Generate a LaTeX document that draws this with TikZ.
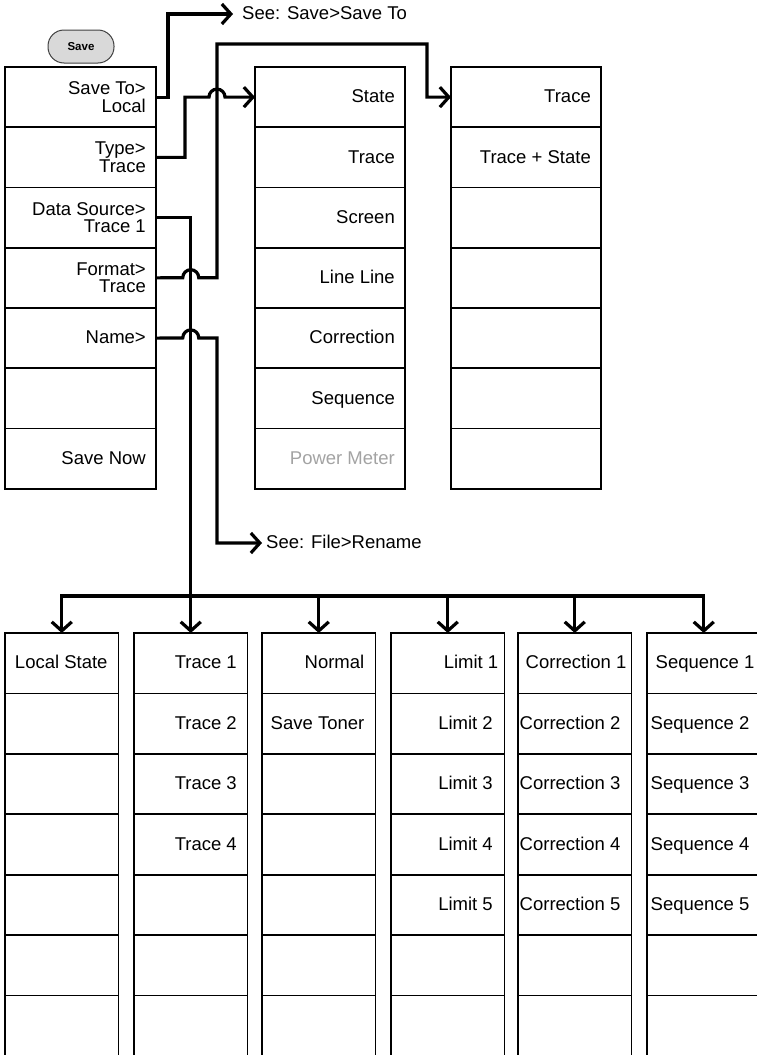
\documentclass[tikz,border=0pt]{standalone}
\usepackage{fontspec}
\setmainfont{Liberation Sans}
\usetikzlibrary{arrows.meta}
\definecolor{btnfill}{HTML}{D9D9D9}
\definecolor{btnline}{HTML}{404040}
\definecolor{dimtext}{HTML}{A3A3A3}
\begin{document}
\begin{tikzpicture}[x=1pt,y=-1pt,
  cell/.style={draw, line width=1.7pt, minimum width=151pt, minimum height=60.25pt, inner sep=0pt, outer sep=0pt},
  mcell/.style={cell, minimum width=150pt},
  bcell/.style={cell, minimum width=113.5pt, minimum height=60.42pt},
  txt/.style={inner sep=0pt, font=\fontsize{18.5}{17.6}\selectfont, text height=13.3pt, text depth=0pt},
  txttwo/.style={inner sep=0pt, font=\fontsize{18.5}{17.6}\selectfont, align=right, anchor=east},
  conn/.style={line width=3.2pt},
  arr/.style={conn, -{Straight Barb[length=9pt,width=20pt]}},
  btn/.style={draw=btnline, fill=btnfill, line width=1pt, rounded corners=16pt, minimum width=66pt, minimum height=33pt, inner sep=0pt, font=\bfseries\fontsize{11.5}{12}\selectfont}
]
\useasboundingbox (0,0) rectangle (757,1055);
\clip (0,0) rectangle (757,1055);

% Save button
\node[btn] (save) at (81,46.5) {Save};

% left column
\foreach \i in {1,...,7} \node[cell] (L\i) at (80.5,{67+60.25*(\i-0.5)}) {};
\node[txttwo] (tL1) at ([xshift=-10pt]L1.east) {Save To>\\Local};
\node[txttwo] (tL2) at ([xshift=-10pt]L2.east) {Type>\\Trace};
\node[txttwo] (tL3) at ([xshift=-10pt]L3.east) {Data Source>\\Trace 1};
\node[txttwo] (tL4) at ([xshift=-10pt]L4.east) {Format>\\Trace};
\node[txt, anchor=east] (tL5) at ([xshift=-10pt,yshift=1pt]L5.east) {Name>};
\node[txt, anchor=east] (tL7) at ([xshift=-10pt,yshift=1pt]L7.east) {Save Now};

% middle column
\foreach \i in {1,...,7} \node[mcell] (M\i) at (330,{67+60.25*(\i-0.5)}) {};
\foreach \i/\t in {1/State,2/Trace,3/Screen,4/Line Line,5/Correction,6/Sequence}
  \node[txt, anchor=east] (tM\i) at ([xshift=-10pt,yshift=1pt]M\i.east) {\t};
\node[txt, anchor=east, text=dimtext] (tM7) at ([xshift=-10pt,yshift=1pt]M7.east) {Power Meter};

% right column
\foreach \i in {1,...,7} \node[mcell] (R\i) at (526,{67+60.25*(\i-0.5)}) {};
\node[txt, anchor=east] (tR1) at ([xshift=-10pt,yshift=1pt]R1.east) {Trace};
\node[txt, anchor=east] (tR2) at ([xshift=-10pt,yshift=1pt]R2.east) {Trace + State};

% bottom columns
\foreach \c/\x in {1/61.75,2/190.75,3/318.75,4/447.75,5/574.75,6/703.75}
  \foreach \r in {1,...,7}
    \node[bcell] (B\c\r) at (\x,{633+60.42*(\r-0.5)}) {};

\node[txt] (tB11) at ([xshift=-0.5pt,yshift=1pt]B11.center) {Local State};
\foreach \r in {1,...,4}
  \node[txt, anchor=east] (tB2\r) at ([xshift=-10.5pt,yshift=1pt]B2\r.east) {Trace \r};
\node[txt, anchor=east] (tB31) at ([xshift=-11pt,yshift=1pt]B31.east) {Normal};
\node[txt, anchor=east] (tB32) at ([xshift=-11pt,yshift=1pt]B32.east) {Save Toner};
\node[txt, anchor=east] (tB41) at ([xshift=-6pt,yshift=1pt]B41.east) {Limit 1};
\foreach \r in {2,...,5}
  \node[txt, anchor=east] (tB4\r) at ([xshift=-11.5pt,yshift=1pt]B4\r.east) {Limit \r};
\node[txt, anchor=west] (tB51) at ([xshift=7.5pt,yshift=1pt]B51.west) {Correction 1};
\foreach \r in {2,...,5}
  \node[txt, anchor=west] (tB5\r) at ([xshift=1.5pt,yshift=1pt]B5\r.west) {Correction \r};
\node[txt, anchor=west] (tB61) at ([xshift=8.5pt,yshift=1pt]B61.west) {Sequence 1};
\foreach \r in {2,...,5}
  \node[txt, anchor=west] (tB6\r) at ([xshift=3.5pt,yshift=1pt]B6\r.west) {Sequence \r};

% "See" labels
\node[txt, anchor=west] (seeA) at (242,12.5) {See: Save>Save To};
\node[txt, anchor=west] (seeB) at (266,541.5) {See: File>Rename};

% connectors
\coordinate (c1) at (168,14);
\draw[arr] (L1.east) -| (c1) -- ([xshift=-9pt,yshift=-1.5pt]seeA.west);
\draw[arr] (L2.east) -| (185,97.1) -- (209,97.1) arc[start angle=180,end angle=0,radius=8pt] -- (M1.west);
\draw[arr] (L3.east) -| (B21.north);
\draw[arr] (L4.east) -- (182.75,277.7) arc[start angle=180,end angle=0,radius=8pt] -- (217,277.7) |- (427,44) |- (R1.west);
\draw[arr] (L5.east) -- (182.75,337.9) arc[start angle=180,end angle=0,radius=8pt] -- (217,337.9) |- ([xshift=-4pt,yshift=-1.5pt]seeB.west);

% bus to bottom columns
\coordinate (busL) at (61.75,596);
\coordinate (busR) at (703.75,596);
\draw[conn, line cap=rect] (busL) -- (busR);
\foreach \c in {1,3,4,5,6}
  \draw[arr] (B\c1.north |- busL) -- (B\c1.north);
\end{tikzpicture}
\end{document}
